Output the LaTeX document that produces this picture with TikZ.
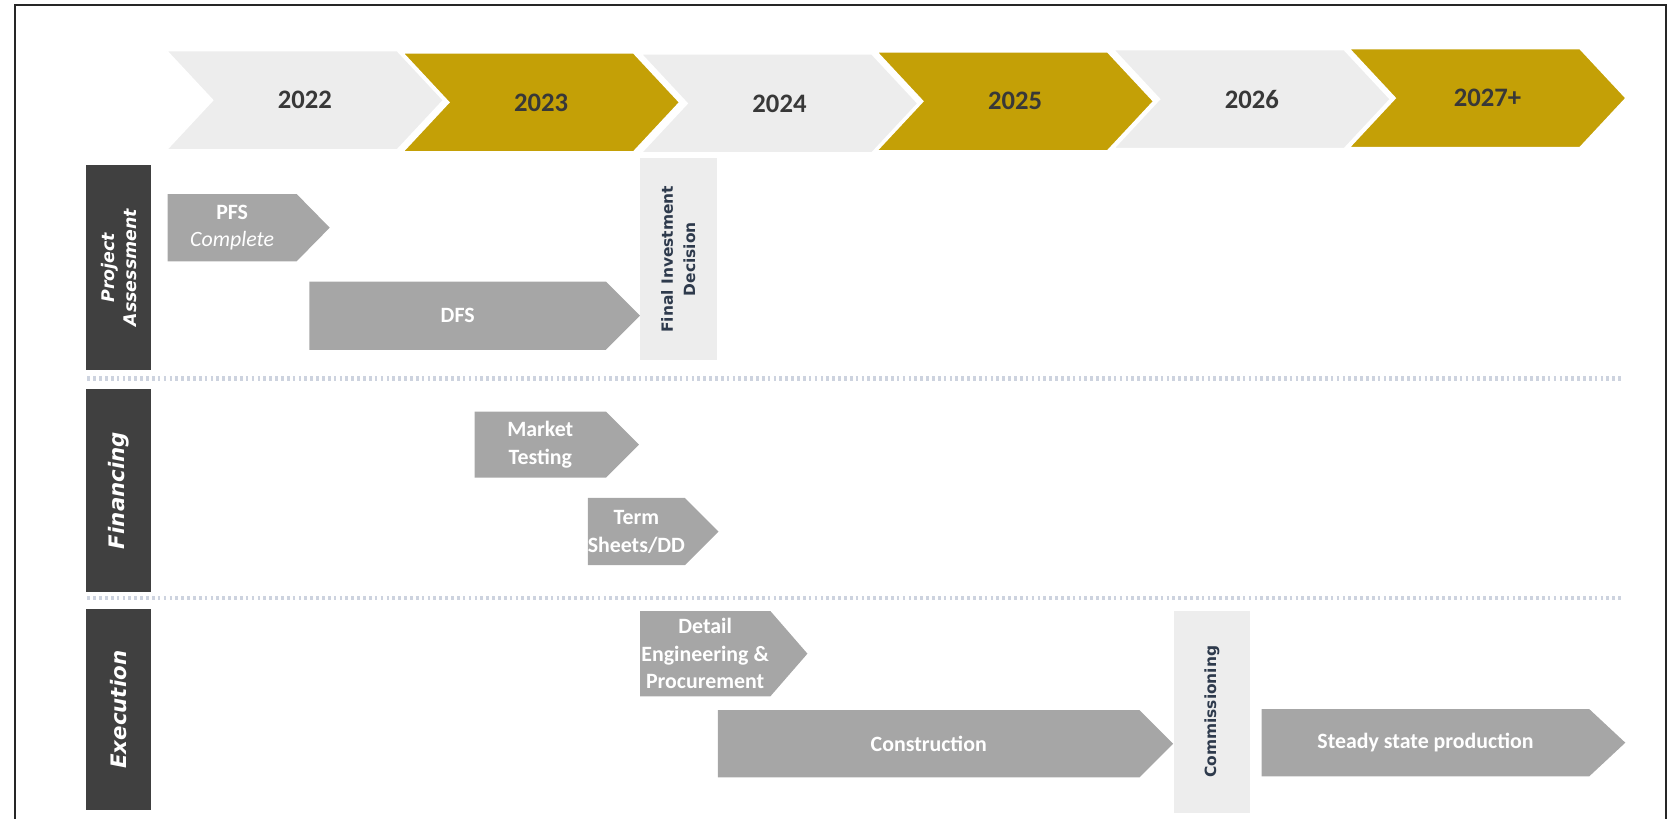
\documentclass[tikz,border=0pt]{standalone}
\usepackage{fontspec}
\setmainfont{Carlito}
\newfontfamily\lanefont{DejaVu Sans}
\usetikzlibrary{shapes.symbols,positioning}

\definecolor{gold}{HTML}{C4A006}
\definecolor{lightgrey}{HTML}{EDEDED}
\definecolor{midgrey}{HTML}{A6A6A6}
\definecolor{darkbar}{HTML}{404040}
\definecolor{dotline}{HTML}{CDD3DF}
\definecolor{yeartext}{HTML}{383838}
\definecolor{navytext}{HTML}{2E3A4C}

\begin{document}
\begin{tikzpicture}[x=1pt,y=-1pt]
          \tikzstyle{yearnode} = [shape=signal, signal from=west, signal to=east, signal pointer angle=94, minimum width=260pt, minimum height=93pt, inner sep=0pt, draw=white, line width=1.5pt, text=yeartext, font=\fontsize{25}{30}\selectfont\bfseries]
          \tikzstyle{lanebar} = [rectangle, fill=darkbar, rotate=90, minimum height=61pt, inner sep=0pt, text=white, align=center, font=\lanefont\bfseries\itshape]
          \tikzstyle{taskbar} = [shape=signal, signal to=east, fill=midgrey, inner sep=0pt, anchor=west, text=white, align=center, font=\fontsize{20.5}{26}\selectfont\bfseries]
          \tikzstyle{gatebox} = [rectangle, fill=lightgrey, rotate=90, inner sep=0pt, text=navytext, align=center, font=\lanefont\fontsize{14.5}{21}\selectfont\bfseries]
          \tikzstyle{sepline} = [dotline, line width=4pt, dash pattern=on 2.5pt off 3pt]
          \useasboundingbox (0,0) rectangle (1568,768);
          \draw[line width=2pt, black!85] (14,772) -- (14,5) -- (1562,5) -- (1562,772);

          % years
          \node[yearnode, fill=lightgrey] (y2022) at (286,94) {2022};
          \node[yearnode, fill=gold] (y2023) at (507.5,96) {2023};
          \node[yearnode, fill=lightgrey] (y2024) at (731,97) {2024};
          \node[yearnode, fill=gold] (y2025) at (952,95) {2025};
          \node[yearnode, fill=lightgrey] (y2026) at (1174,93) {2026};
          \node[yearnode, fill=gold] (y2027) at (1395,92) {2027+};

          % lanes
          \node[lanebar, minimum width=192pt, font=\lanefont\fontsize{16.3}{20}\selectfont\bfseries\itshape] (proj) at (111.5,251) {Project\\Assessment};
          \node[lanebar, minimum width=190pt, font=\lanefont\fontsize{20}{24}\selectfont\bfseries\itshape] (fin) at (111.5,460) {Financing};
          \node[lanebar, minimum width=189pt, font=\lanefont\fontsize{20}{24}\selectfont\bfseries\itshape] (exe) at (111.5,665.5) {Execution};
          \draw[sepline] (82,355) -- (1522,355);
          \draw[sepline] (82,561) -- (1522,561);

          % project assessment
          \node[taskbar, minimum width=152pt, minimum height=63pt, signal pointer angle=91] (pfs) at (157,213.5) {PFS\\{\mdseries\itshape Complete}};
          \node[taskbar, minimum width=310pt, minimum height=64pt, signal pointer angle=90] (dfs) at (290,296) {DFS};
          \node[gatebox, minimum width=190pt, minimum height=72pt] (fid) at (636,243) {Final Investment\\Decision};

          % financing
          \node[taskbar, minimum width=154pt, minimum height=62pt, signal pointer angle=90] (mkt) at (445,417) {Market\\Testing};
          \node[taskbar, minimum width=121pt, minimum height=63pt, signal pointer angle=90] (term) at (551,498.5) {Term\\Sheets/DD};

          % execution
          \node[taskbar, minimum width=157pt, minimum height=80pt, signal pointer angle=98] (dep) at (600,613) {Detail\\Engineering \&\\Procurement};
          \node[taskbar, minimum width=427pt, minimum height=63pt, signal pointer angle=90] (cons) at (673,697.5) {Construction};
          \node[gatebox, minimum width=189pt, minimum height=71pt] (comm) at (1136.5,667.5) {Commissioning};
          \node[taskbar, minimum width=341pt, minimum height=63pt, signal pointer angle=86] (ssp) at (1183,696.5) {Steady state production};
        \end{tikzpicture}
\end{document}
